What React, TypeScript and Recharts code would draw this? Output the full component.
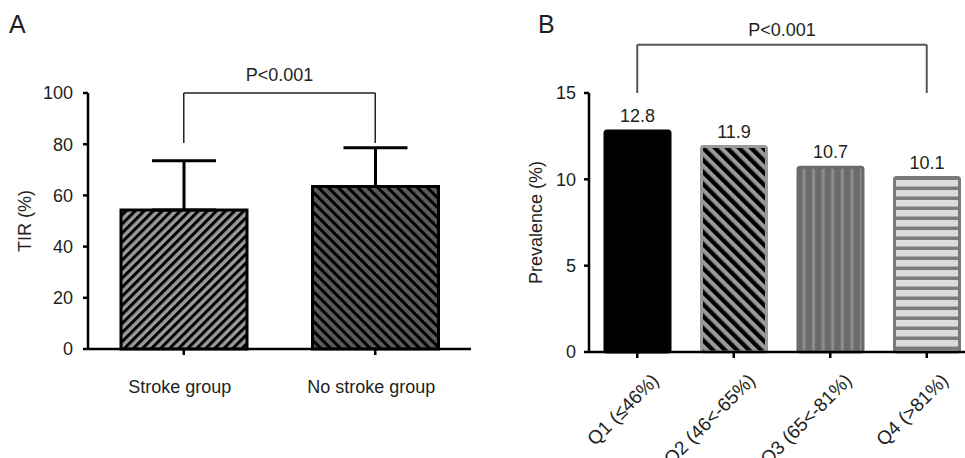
import { BarChart, Bar, XAxis, YAxis, Cell, ErrorBar, LabelList, ReferenceLine } from 'recharts';

// Panel A: TIR by group (mean + SD)
const groupNames = ['Stroke group', 'No stroke group'];
const tirMeans = [54.3, 63.5];
const tirSd = [19.2, 15.1];
const tirTicks = [0, 20, 40, 60, 80, 100];
const tirBracket = [80.5, 100];

// Panel B: prevalence by TIR quartile
const quartileNames = ['Q1 (≤46%)', 'Q2 (46<-65%)', 'Q3 (65<-81%)', 'Q4 (>81%)'];
const prevalence = [12.8, 11.9, 10.7, 10.1];
const prevalenceTicks = [0, 5, 10, 15];
const prevalenceBracket = [15, 17.8];

const tirData = groupNames.map((name, i) => ({ name, tir: tirMeans[i], err: [0, tirSd[i]] }));
const prevData = quartileNames.map((name, i) => ({ name, value: prevalence[i] }));

const FONT = '"Liberation Sans", Arial, Helvetica, sans-serif';
const INK = '#231f20';
const axisStyle = { stroke: '#000', strokeWidth: 2.5 };

const tirFills = ['url(#hatchA1)', 'url(#hatchA2)'];
const prevFills = ['#000', 'url(#hatchB2)', 'url(#stripeB3)', 'url(#stripeB4)'];
const prevStrokes = ['#000', '#9a9a9a', '#6a6a6a', '#7a7a7a'];

const QuartileTick = ({ x, y, payload }: any) => (
  <g transform={`translate(${x + 13},${y + 12})`}>
    <text transform="rotate(-45)" textAnchor="end" dy="0.72em" fontSize={19} fill={INK} fontFamily={FONT}>
      {payload.value}
    </text>
  </g>
);

function PanelA() {
  return (
    <BarChart width={480} height={458} data={tirData} margin={{ top: 93, right: 9, bottom: 49, left: 20 }}>
      <defs>
        <pattern id="hatchA1" patternUnits="userSpaceOnUse" width={6.4} height={6.4} patternTransform="rotate(45)">
          <rect width={6.4} height={6.4} fill="#9a9a9a" />
          <rect width={3} height={6.4} fill="#000" />
        </pattern>
        <pattern id="hatchA2" patternUnits="userSpaceOnUse" width={7} height={7} patternTransform="rotate(-45)">
          <rect width={7} height={7} fill="#5a5a5a" />
          <rect width={3} height={7} fill="#000" />
        </pattern>
      </defs>
      <XAxis
        dataKey="name"
        height={60}
        axisLine={axisStyle}
        tickLine={axisStyle}
        tickSize={6}
        tickMargin={25}
        tick={{ fontSize: 18, fill: INK, fontFamily: FONT, dx: -4 }}
      />
      <YAxis
        width={68}
        domain={[0, 100]}
        ticks={tirTicks}
        axisLine={axisStyle}
        tickLine={axisStyle}
        tickSize={5}
        tickMargin={10}
        tick={{ fontSize: 18, fill: INK, fontFamily: FONT }}
        label={{ value: 'TIR (%)', angle: -90, position: 'insideLeft', offset: 5, fontSize: 18, fill: INK, fontFamily: FONT, style: { textAnchor: 'middle' } }}
      />
      <Bar dataKey="tir" barSize={126} stroke="#000" strokeWidth={3} isAnimationActive={false}>
        {tirData.map((d, i) => (
          <Cell key={d.name} fill={tirFills[i]} />
        ))}
        <ErrorBar dataKey="err" width={32} stroke="#000" strokeWidth={3} direction="y" />
      </Bar>
      <ReferenceLine
        segment={[{ x: groupNames[0], y: tirBracket[0] }, { x: groupNames[0], y: tirBracket[1] }]}
        stroke="#222" strokeWidth={1.5} ifOverflow="visible"
      />
      <ReferenceLine
        segment={[{ x: groupNames[0], y: tirBracket[1] }, { x: groupNames[1], y: tirBracket[1] }]}
        stroke="#222" strokeWidth={1.5} ifOverflow="visible"
        label={{ value: 'P<0.001', position: 'top', offset: 12, fontSize: 18, fill: INK, fontFamily: FONT }}
      />
      <ReferenceLine
        segment={[{ x: groupNames[1], y: tirBracket[1] }, { x: groupNames[1], y: tirBracket[0] }]}
        stroke="#222" strokeWidth={1.5} ifOverflow="visible"
      />
    </BarChart>
  );
}

function PanelB() {
  return (
    <BarChart width={495} height={458} data={prevData} margin={{ top: 93, right: 0, bottom: 16, left: 51 }}>
      <defs>
        <pattern id="hatchB2" patternUnits="userSpaceOnUse" width={8.5} height={8.5} patternTransform="rotate(-45)">
          <rect width={8.5} height={8.5} fill="#9a9a9a" />
          <rect width={4.3} height={8.5} fill="#000" />
        </pattern>
        <pattern id="stripeB3" patternUnits="userSpaceOnUse" width={9.6} height={10}>
          <rect width={9.6} height={10} fill="#6a6a6a" />
          <rect x={5.5} width={3.2} height={10} fill="#8c8c8c" />
        </pattern>
        <pattern id="stripeB4" patternUnits="userSpaceOnUse" width={10} height={10}>
          <rect width={10} height={10} fill="#dcdcdc" />
          <rect y={6.5} width={10} height={3.5} fill="#7c7c7c" />
        </pattern>
      </defs>
      <XAxis
        dataKey="name"
        height={90}
        axisLine={axisStyle}
        tickLine={axisStyle}
        tickSize={6}
        tickMargin={2}
        interval={0}
        tick={<QuartileTick />}
      />
      <YAxis
        width={58}
        domain={[0, 15]}
        ticks={prevalenceTicks}
        axisLine={axisStyle}
        tickLine={axisStyle}
        tickSize={5}
        tickMargin={8}
        tick={{ fontSize: 18, fill: INK, fontFamily: FONT }}
        label={{ value: 'Prevalence (%)', angle: -90, position: 'insideLeft', offset: 5, fontSize: 18, fill: INK, fontFamily: FONT, style: { textAnchor: 'middle' } }}
      />
      <Bar dataKey="value" barSize={65} strokeWidth={3} radius={2} isAnimationActive={false}>
        {prevData.map((d, i) => (
          <Cell key={d.name} fill={prevFills[i]} stroke={prevStrokes[i]} />
        ))}
        <LabelList dataKey="value" position="top" offset={9} fontSize={18} fill={INK} fontFamily={FONT} />
      </Bar>
      <ReferenceLine
        segment={[{ x: quartileNames[0], y: prevalenceBracket[0] }, { x: quartileNames[0], y: prevalenceBracket[1] }]}
        stroke="#555" strokeWidth={2} ifOverflow="visible"
      />
      <ReferenceLine
        segment={[{ x: quartileNames[0], y: prevalenceBracket[1] }, { x: quartileNames[3], y: prevalenceBracket[1] }]}
        stroke="#555" strokeWidth={2} ifOverflow="visible"
        label={{ value: 'P<0.001', position: 'top', offset: 9, fontSize: 18, fill: INK, fontFamily: FONT }}
      />
      <ReferenceLine
        segment={[{ x: quartileNames[3], y: prevalenceBracket[1] }, { x: quartileNames[3], y: prevalenceBracket[0] }]}
        stroke="#555" strokeWidth={2} ifOverflow="visible"
      />
    </BarChart>
  );
}

const panelLetter = { position: 'absolute' as const, top: 12, fontSize: 25, lineHeight: '25px', color: INK, fontFamily: FONT };

export default function App() {
  return (
    <div style={{ position: 'relative', width: 965, height: 458, overflow: 'hidden', background: '#fff' }}>
      <style>{'body{margin:0}'}</style>
      <div style={{ position: 'absolute', left: 0, top: 0 }}>
        <PanelA />
      </div>
      <div style={{ position: 'absolute', left: 480, top: 0 }}>
        <PanelB />
      </div>
      <div style={{ ...panelLetter, left: 9 }}>A</div>
      <div style={{ ...panelLetter, left: 538 }}>B</div>
    </div>
  );
}
